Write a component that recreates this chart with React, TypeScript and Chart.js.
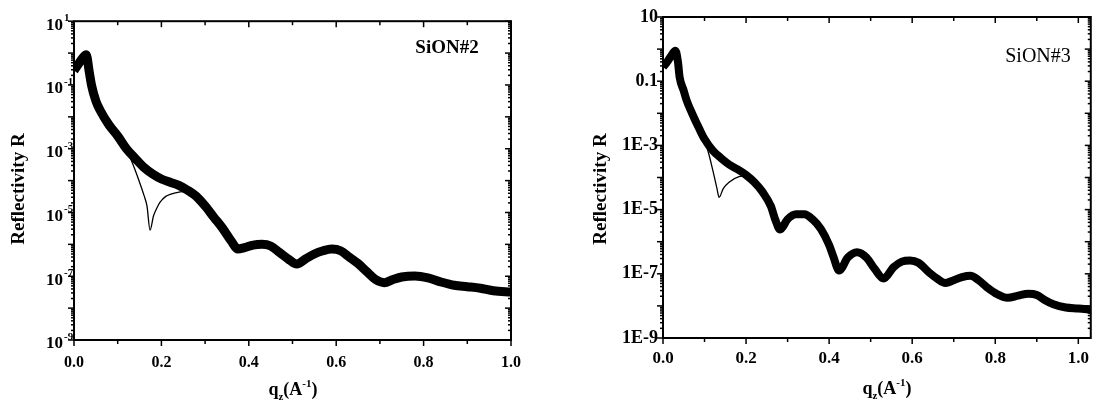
import React, { useEffect, useRef } from "react";
import { Chart, registerables } from "chart.js";

Chart.register(...registerables);

// ---------- SiON#2 (left panel) ----------
const q2Data = [0, 0.01, 0.02, 0.028, 0.035, 0.04, 0.05, 0.06, 0.08, 0.1, 0.12, 0.14, 0.16, 0.18, 0.2, 0.22, 0.24, 0.26, 0.28, 0.3, 0.32, 0.34, 0.36, 0.375, 0.39, 0.41, 0.43, 0.45, 0.47, 0.49, 0.51, 0.53, 0.55, 0.57, 0.59, 0.61, 0.63, 0.65, 0.67, 0.69, 0.71, 0.73, 0.75, 0.78, 0.81, 0.84, 0.87, 0.9, 0.93, 0.96, 1.0];
const r2Data = [0.282, 0.447, 0.708, 0.891, 0.251, 0.1, 0.0316, 0.0158, 5.6e-3, 2.5e-3, 1e-3, 5e-4, 2.6e-4, 1.6e-4, 1.12e-4, 8.9e-5, 7.1e-5, 5e-5, 3.2e-5, 1.6e-5, 7.1e-6, 3.2e-6, 1.26e-6, 7.1e-7, 7.9e-7, 9.5e-7, 1e-6, 8.9e-7, 5.6e-7, 3.5e-7, 2.4e-7, 3.5e-7, 5e-7, 6.3e-7, 7.1e-7, 6.3e-7, 4e-7, 2.5e-7, 1.4e-7, 7.9e-8, 6.3e-8, 7.9e-8, 9.5e-8, 1.02e-7, 8.9e-8, 6.6e-8, 5.2e-8, 4.7e-8, 4.2e-8, 3.5e-8, 3.2e-8];
const q2Fit = [0, 0.01, 0.02, 0.028, 0.035, 0.04, 0.05, 0.06, 0.08, 0.1, 0.12, 0.135, 0.15, 0.16, 0.167, 0.174, 0.182, 0.19, 0.197, 0.21, 0.22, 0.243, 0.26, 0.28, 0.3, 0.32, 0.34, 0.36, 0.375, 0.39, 0.41, 0.43, 0.45, 0.47, 0.49, 0.51, 0.53, 0.55, 0.57, 0.59, 0.61, 0.63, 0.65, 0.67, 0.69, 0.71, 0.73, 0.75, 0.78, 0.81, 0.84, 0.87, 0.9, 0.93, 0.96, 1.0];
const r2Fit = [0.282, 0.447, 0.708, 0.891, 0.251, 0.1, 0.0316, 0.0158, 5.6e-3, 2.5e-3, 9.5e-4, 3.2e-4, 8.9e-5, 3.5e-5, 1.6e-5, 2.8e-6, 7.9e-6, 1.41e-5, 2.1e-5, 3.2e-5, 3.7e-5, 4.4e-5, 4.7e-5, 3.2e-5, 1.6e-5, 7.1e-6, 3.2e-6, 1.26e-6, 7.1e-7, 7.9e-7, 9.5e-7, 1e-6, 8.9e-7, 5.6e-7, 3.5e-7, 2.4e-7, 3.5e-7, 5e-7, 6.3e-7, 7.1e-7, 6.3e-7, 4e-7, 2.5e-7, 1.4e-7, 7.9e-8, 6.3e-8, 7.9e-8, 9.5e-8, 1.02e-7, 8.9e-8, 6.6e-8, 5.2e-8, 4.7e-8, 4.2e-8, 3.5e-8, 3.2e-8];

// ---------- SiON#3 (right panel) ----------
const q3Data = [0, 0.01, 0.02, 0.03, 0.036, 0.04, 0.05, 0.057, 0.07, 0.088, 0.1, 0.12, 0.14, 0.16, 0.18, 0.2, 0.22, 0.24, 0.26, 0.27, 0.282, 0.3, 0.32, 0.34, 0.36, 0.38, 0.4, 0.41, 0.424, 0.445, 0.467, 0.49, 0.51, 0.531, 0.555, 0.575, 0.595, 0.615, 0.64, 0.66, 0.68, 0.7, 0.72, 0.74, 0.76, 0.78, 0.8, 0.83, 0.855, 0.88, 0.9, 0.92, 0.94, 0.97, 1.0, 1.03];
const r3Data = [0.275, 0.398, 0.631, 0.891, 0.398, 0.135, 0.05, 0.0251, 0.01, 3.16e-3, 1.58e-3, 6.9e-4, 4e-4, 2.5e-4, 1.78e-4, 1.2e-4, 7.1e-5, 3.5e-5, 1.26e-5, 5e-6, 2.4e-6, 5e-6, 7.1e-6, 7.1e-6, 5e-6, 2.5e-6, 7.9e-7, 3.5e-7, 1.26e-7, 3.2e-7, 4.7e-7, 3.2e-7, 1.4e-7, 7.1e-8, 1.6e-7, 2.4e-7, 2.6e-7, 2.2e-7, 1.12e-7, 7.1e-8, 5.2e-8, 6.3e-8, 7.9e-8, 8.7e-8, 6.3e-8, 3.8e-8, 2.5e-8, 1.78e-8, 2.1e-8, 2.4e-8, 2.2e-8, 1.5e-8, 1.12e-8, 8.9e-9, 8.3e-9, 7.6e-9];
const q3Fit = [0, 0.01, 0.02, 0.03, 0.036, 0.04, 0.05, 0.057, 0.07, 0.088, 0.1, 0.11, 0.12, 0.13, 0.135, 0.145, 0.159, 0.183, 0.2, 0.22, 0.24, 0.26, 0.27, 0.282, 0.3, 0.32, 0.34, 0.36, 0.38, 0.4, 0.41, 0.424, 0.445, 0.467, 0.49, 0.51, 0.531, 0.555, 0.575, 0.595, 0.615, 0.64, 0.66, 0.68, 0.7, 0.72, 0.74, 0.76, 0.78, 0.8, 0.83, 0.855, 0.88, 0.9, 0.92, 0.94, 0.97, 1.0, 1.03];
const r3Fit = [0.275, 0.398, 0.631, 0.891, 0.398, 0.135, 0.05, 0.0251, 0.01, 3.16e-3, 1.41e-3, 5.6e-4, 1.66e-4, 4.5e-5, 2.4e-5, 4.5e-5, 7.1e-5, 1.07e-4, 1.12e-4, 6.8e-5, 3.5e-5, 1.26e-5, 5e-6, 2.4e-6, 5e-6, 7.1e-6, 7.1e-6, 5e-6, 2.5e-6, 7.9e-7, 3.5e-7, 1.26e-7, 3.2e-7, 4.7e-7, 3.2e-7, 1.4e-7, 7.1e-8, 1.6e-7, 2.4e-7, 2.6e-7, 2.2e-7, 1.12e-7, 7.1e-8, 5.2e-8, 6.3e-8, 7.9e-8, 8.7e-8, 6.3e-8, 3.8e-8, 2.5e-8, 1.78e-8, 2.1e-8, 2.4e-8, 2.2e-8, 1.5e-8, 1.12e-8, 8.9e-9, 8.3e-9, 7.6e-9];

// ---------- axes ----------
const xTickValues = [0, 0.1, 0.2, 0.3, 0.4, 0.5, 0.6, 0.7, 0.8, 0.9, 1.0];
const xTickLabels = ["0.0", "", "0.2", "", "0.4", "", "0.6", "", "0.8", "", "1.0"];
const yLabelValues = [10, 0.1, 1e-3, 1e-5, 1e-7, 1e-9];
const yLabelsLeftBase = ["10", "10", "10", "10", "10", "10"];
const yLabelsLeftSup = ["1", "-1", "-3", "-5", "-7", "-9"];
const yLabelsRight = ["10", "0.1", "1E-3", "1E-5", "1E-7", "1E-9"];
const yDecades = [1e-9, 1e-8, 1e-7, 1e-6, 1e-5, 1e-4, 1e-3, 1e-2, 1e-1, 1];
const yMinorMultipliers = [2, 3, 4, 5, 6, 7, 8, 9];

const SERIF = '"Liberation Serif", "Times New Roman", serif';

type Panel = {
  name: string;
  nameBold: boolean;
  nameSize: number;
  nameX: number;
  nameY: number;
  dataQ: number[];
  dataR: number[];
  fitQ: number[];
  fitR: number[];
  bandWidth: number;
  xMax: number;
  width: number;
  areaLeft: number;
  areaRight: number;
  areaTop: number;
  areaBottom: number;
  tickSize: number;
  yTickSize: number;
  yPad: number;
  xPad: number;
  yLabels: string[];
  ySup: string[] | null;
  yLabelOffset: number;
  yTitleX: number;
  yTitleY: number;
  xTitleX: number;
  xTitleY: number;
};

const framePlugin = {
  id: "frame",
  afterDraw(chart: any, _args: any, o: any) {
    const { ctx, chartArea, scales } = chart;
    const { left, right, top, bottom } = chartArea;
    const x = scales.x;
    const y = scales.y;
    ctx.save();
    ctx.strokeStyle = "#000";
    ctx.fillStyle = "#000";
    ctx.lineWidth = 2;
    ctx.strokeRect(left, top, right - left, bottom - top);
    ctx.lineWidth = 1.5;
    const seg = (x1: number, y1: number, x2: number, y2: number) => {
      ctx.beginPath();
      ctx.moveTo(x1, y1);
      ctx.lineTo(x2, y2);
      ctx.stroke();
    };
    // x ticks: bottom outward, top inward
    xTickValues.forEach((v, i) => {
      const px = x.getPixelForValue(v);
      const len = i % 2 === 0 ? 6 : 4;
      seg(px, bottom, px, bottom + len);
      seg(px, top, px, top + len);
    });
    // y ticks: left outward, right inward
    const yTicks: { v: number; major: boolean }[] = [];
    yDecades.forEach((d) => {
      yTicks.push({ v: d, major: true });
      yMinorMultipliers.forEach((m) => yTicks.push({ v: d * m, major: false }));
    });
    yTicks.push({ v: 10, major: true });
    yTicks.forEach((t) => {
      const py = y.getPixelForValue(t.v);
      if (py < top - 0.5 || py > bottom + 0.5) return;
      const len = t.major ? 6 : 3;
      seg(left - len, py, left, py);
      seg(right - len, py, right, py);
    });
    // superscripts on left-panel y labels
    if (o.sup) {
      ctx.font = `bold ${o.supSize}px ${SERIF}`;
      ctx.textAlign = "left";
      ctx.textBaseline = "alphabetic";
      yLabelValues.forEach((v, i) => {
        const py = y.getPixelForValue(v);
        ctx.fillText(o.sup[i], left - o.yPad + 1, py + o.supDy);
      });
    }
    // panel name
    ctx.font = `${o.nameBold ? "bold " : ""}${o.nameSize}px ${SERIF}`;
    ctx.textAlign = "center";
    ctx.textBaseline = "middle";
    ctx.fillText(o.name, o.nameX, o.nameY);
    // y title
    ctx.save();
    ctx.translate(o.yTitleX, o.yTitleY);
    ctx.rotate(-Math.PI / 2);
    ctx.font = `bold ${o.yTitleSize}px ${SERIF}`;
    ctx.textAlign = "center";
    ctx.textBaseline = "alphabetic";
    ctx.fillText("Reflectivity R", 0, 0);
    ctx.restore();
    // x title: q_z(A^-1)
    const big = `bold ${o.xTitleSize}px ${SERIF}`;
    const small = `bold ${Math.round(o.xTitleSize * 0.62)}px ${SERIF}`;
    const parts = [
      { t: "q", f: big, dy: 0 },
      { t: "z", f: small, dy: o.xTitleSize * 0.3 },
      { t: "(A", f: big, dy: 0 },
      { t: "-1", f: small, dy: -o.xTitleSize * 0.42 },
      { t: ")", f: big, dy: 0 },
    ];
    let total = 0;
    parts.forEach((p) => {
      ctx.font = p.f;
      total += ctx.measureText(p.t).width;
    });
    let cx = o.xTitleX - total / 2;
    ctx.textAlign = "left";
    ctx.textBaseline = "alphabetic";
    parts.forEach((p) => {
      ctx.font = p.f;
      ctx.fillText(p.t, cx, o.xTitleY + p.dy);
      cx += ctx.measureText(p.t).width;
    });
    ctx.restore();
  },
};

function makeConfig(p: Panel): any {
  return {
    type: "line",
    data: {
      datasets: [
        {
          data: p.fitQ.map((q, i) => ({ x: q, y: p.fitR[i] })),
          borderColor: "#000",
          borderWidth: 1.3,
          pointRadius: 0,
          cubicInterpolationMode: "monotone",
          fill: false,
          clip: 0,
        },
        {
          data: p.dataQ.map((q, i) => ({ x: q, y: p.dataR[i] })),
          borderColor: "#000",
          borderWidth: p.bandWidth,
          pointRadius: 0,
          cubicInterpolationMode: "monotone",
          fill: false,
          clip: 0,
        },
      ],
    },
    options: {
      animation: false,
      responsive: false,
      maintainAspectRatio: false,
      layout: {
        padding: { left: 0, top: p.areaTop, right: p.width - p.areaRight, bottom: 0 },
      },
      plugins: {
        legend: { display: false },
        tooltip: { enabled: false },
        frame: {
          sup: p.ySup,
          supSize: 11,
          supDy: 0,
          yPad: p.yPad,
          name: p.name,
          nameBold: p.nameBold,
          nameSize: p.nameSize,
          nameX: p.nameX,
          nameY: p.nameY,
          yTitleX: p.yTitleX,
          yTitleY: p.yTitleY,
          yTitleSize: 19,
          xTitleX: p.xTitleX,
          xTitleY: p.xTitleY,
          xTitleSize: 18,
        },
      },
      scales: {
        x: {
          type: "linear",
          min: 0,
          max: p.xMax,
          afterBuildTicks: (s: any) => {
            s.ticks = xTickValues.map((v) => ({ value: v }));
          },
          afterFit: (s: any) => {
            s.height = 409 - p.areaBottom;
          },
          grid: { display: false, drawTicks: false },
          border: { display: false },
          ticks: {
            autoSkip: false,
            maxRotation: 0,
            padding: p.xPad,
            color: "#000",
            font: { family: SERIF, weight: "bold", size: p.tickSize },
            callback: (_v: any, i: number) => xTickLabels[i],
          },
        },
        y: {
          type: "logarithmic",
          min: 1e-9,
          max: 10,
          afterBuildTicks: (s: any) => {
            s.ticks = yLabelValues.map((v) => ({ value: v }));
          },
          afterFit: (s: any) => {
            s.width = p.areaLeft;
          },
          grid: { display: false, drawTicks: false },
          border: { display: false },
          ticks: {
            autoSkip: false,
            padding: p.yPad,
            labelOffset: p.yLabelOffset,
            color: "#000",
            font: { family: SERIF, weight: "bold", size: p.yTickSize },
            callback: (_v: any, i: number) => p.yLabels[i],
          },
        },
      },
    },
    plugins: [framePlugin],
  };
}

const leftPanel: Panel = {
  name: "SiON#2",
  nameBold: true,
  nameSize: 19,
  nameX: 447,
  nameY: 48,
  dataQ: q2Data,
  dataR: r2Data,
  fitQ: q2Fit,
  fitR: r2Fit,
  bandWidth: 9,
  xMax: 1.0,
  width: 550,
  areaLeft: 74,
  areaRight: 511,
  areaTop: 17,
  areaBottom: 340,
  tickSize: 16,
  yTickSize: 17,
  yPad: 11,
  xPad: 13,
  yLabels: yLabelsLeftBase,
  ySup: yLabelsLeftSup,
  yLabelOffset: 4,
  yTitleX: 24,
  yTitleY: 189,
  xTitleX: 293,
  xTitleY: 395,
};

const rightPanel: Panel = {
  name: "SiON#3",
  nameBold: false,
  nameSize: 20,
  nameX: 488,
  nameY: 57,
  dataQ: q3Data,
  dataR: r3Data,
  fitQ: q3Fit,
  fitR: r3Fit,
  bandWidth: 8,
  xMax: 1.03,
  width: 549,
  areaLeft: 113,
  areaRight: 547,
  areaTop: 17,
  areaBottom: 338,
  tickSize: 17,
  yTickSize: 18,
  yPad: 5,
  xPad: 10,
  yLabels: yLabelsRight,
  ySup: null,
  yLabelOffset: 0,
  yTitleX: 56,
  yTitleY: 189,
  xTitleX: 337,
  xTitleY: 394,
};

function PanelChart({ panel, left }: { panel: Panel; left: number }) {
  const ref = useRef<HTMLCanvasElement | null>(null);
  useEffect(() => {
    if (!ref.current) return;
    const chart = new Chart(ref.current, makeConfig(panel));
    return () => chart.destroy();
  }, [panel]);
  return (
    <canvas
      ref={ref}
      width={panel.width}
      height={409}
      style={{ position: "absolute", left, top: 0, width: panel.width, height: 409, display: "block" }}
    />
  );
}

export default function App() {
  return (
    <div style={{ position: "absolute", left: 0, top: 0, width: 1099, height: 409, background: "#fff", overflow: "hidden" }}>
      <PanelChart panel={leftPanel} left={0} />
      <PanelChart panel={rightPanel} left={550} />
    </div>
  );
}
